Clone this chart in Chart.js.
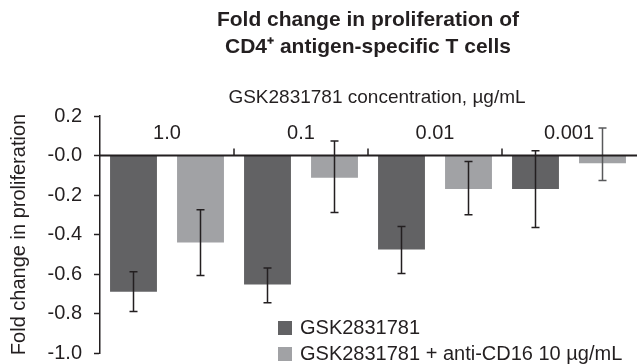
<!DOCTYPE html>
<html lang="en">
<head>
    <meta charset="UTF-8">
    <title>Fold change in proliferation of CD4+ antigen-specific T cells</title>
    <script src="https://cdn.jsdelivr.net/npm/chart.js"></script>
    <style>
        body {
            margin: 0;
            background: white;
        }
        .chart-container {
            position: relative;
            width: 637px;
            height: 364px;
        }
    </style>
</head>
<body>

    <div class="chart-container">
        <canvas id="foldChart"></canvas>
    </div>

    <script>
        // concentrations (µg/mL)
        var concentrations = ["1.0", "0.1", "0.01", "0.001"];

        // GSK2831781 alone
        var gskValues = [-0.69, -0.653, -0.476, -0.17];
        var gskLow    = [-0.79, -0.745, -0.597, -0.365];
        var gskHigh   = [-0.589, -0.569, -0.359, 0.024];

        // GSK2831781 + anti-CD16 10 µg/mL
        var cd16Values = [-0.44, -0.113, -0.17, -0.039];
        var cd16Low    = [-0.608, -0.289, -0.30, -0.127];
        var cd16High   = [-0.275, 0.074, -0.03, 0.139];

        var yTicks = [0.2, 0.0, -0.2, -0.4, -0.6, -0.8, -1.0];

        var textColor = "#231f20";
        var fontFamily = "'Liberation Sans', Arial, sans-serif";

        // title, top category axis, error bars and legend
        var decorPlugin = {
            id: "decor",
            afterDatasetsDraw: function(chart) {
                var ctx = chart.ctx;
                var area = chart.chartArea;
                var x = chart.scales.x;
                var y = chart.scales.y;
                var midX = (area.left + area.right) / 2;
                ctx.save();

                // error bars
                var lows = [gskLow, cd16Low];
                var highs = [gskHigh, cd16High];
                for (var d = 0; d < 2; d++) {
                    var meta = chart.getDatasetMeta(d);
                    meta.data.forEach(function(bar, i) {
                        var yl = y.getPixelForValue(lows[d][i]);
                        var yh = y.getPixelForValue(highs[d][i]);
                        ctx.strokeStyle = (d == 1 && i == 3) ? "#58595b" : textColor;
                        ctx.lineWidth = 1.5;
                        ctx.beginPath();
                        ctx.moveTo(bar.x, yl); ctx.lineTo(bar.x, yh);
                        ctx.moveTo(bar.x - 4, yl); ctx.lineTo(bar.x + 4, yl);
                        ctx.moveTo(bar.x - 4, yh); ctx.lineTo(bar.x + 4, yh);
                        ctx.stroke();
                    });
                }

                // zero axis line with ticks pointing up
                var y0 = y.getPixelForValue(0);
                ctx.strokeStyle = textColor;
                ctx.lineWidth = 2;
                ctx.beginPath();
                ctx.moveTo(area.left, y0);
                ctx.lineTo(chart.width, y0);
                ctx.stroke();
                ctx.lineWidth = 1.5;
                for (var i = 1; i < concentrations.length; i++) {
                    var bx = (x.getPixelForValue(i - 1) + x.getPixelForValue(i)) / 2;
                    ctx.beginPath();
                    ctx.moveTo(bx, y0);
                    ctx.lineTo(bx, y0 - 7);
                    ctx.stroke();
                }

                // category labels above the zero line
                ctx.fillStyle = textColor;
                ctx.font = "20px " + fontFamily;
                ctx.textAlign = "center";
                ctx.textBaseline = "middle";
                concentrations.forEach(function(c, i) {
                    ctx.fillText(c, x.getPixelForValue(i), y0 - 22);
                });

                // axis caption and title
                ctx.font = "19px " + fontFamily;
                ctx.fillText("GSK2831781 concentration, µg/mL", midX + 9, 98);
                ctx.font = "bold 21px " + fontFamily;
                ctx.fillText("Fold change in proliferation of", midX, 20);
                ctx.fillText("CD4\u207A antigen-specific T cells", midX, 47);

                // legend
                ctx.font = "20px " + fontFamily;
                ctx.textAlign = "left";
                chart.data.datasets.forEach(function(ds, k) {
                    var ly = 328 + k * 26;
                    ctx.fillStyle = ds.backgroundColor;
                    ctx.fillRect(278, ly - 7, 14, 14);
                    ctx.fillStyle = textColor;
                    ctx.fillText(ds.label, 300, ly);
                });

                ctx.restore();
            }
        };

        var ctx = document.getElementById("foldChart").getContext("2d");
        var foldChart = new Chart(ctx, {
            type: "bar",
            data: {
                labels: concentrations,
                datasets: [{
                    label: "GSK2831781",
                    data: gskValues,
                    backgroundColor: "#626264"
                }, {
                    label: "GSK2831781 + anti-CD16 10 µg/mL",
                    data: cd16Values,
                    backgroundColor: "#a1a2a5"
                }]
            },
            options: {
                responsive: true,
                maintainAspectRatio: false,
                animation: false,
                categoryPercentage: 1.0,
                barPercentage: 0.7,
                layout: { padding: { top: 116, right: 1, bottom: 11, left: 0 } },
                plugins: {
                    legend: { display: false },
                    tooltip: { enabled: false }
                },
                scales: {
                    x: { display: false },
                    y: {
                        min: -1.0,
                        max: 0.2,
                        afterFit: function(scale) {
                            scale.width = 100;
                            scale.paddingTop = 0;
                            scale.paddingBottom = 0;
                        },
                        afterBuildTicks: function(scale) {
                            scale.ticks = yTicks.map(function(v) { return { value: v }; });
                        },
                        border: { display: true, color: textColor, width: 1.5 },
                        grid: { drawOnChartArea: false, tickLength: 6, tickColor: textColor, tickWidth: 1.5 },
                        ticks: {
                            color: textColor,
                            padding: 12,
                            font: { family: fontFamily, size: 20 },
                            callback: function(v) {
                                return (v <= 0 ? "-" : "") + Math.abs(v).toFixed(1);
                            }
                        },
                        title: {
                            display: true,
                            text: "Fold change in proliferation",
                            color: textColor,
                            padding: { top: 7, bottom: 0 },
                            font: { family: fontFamily, size: 20 }
                        }
                    }
                }
            },
            plugins: [decorPlugin]
        });
    </script>

</body>
</html>
